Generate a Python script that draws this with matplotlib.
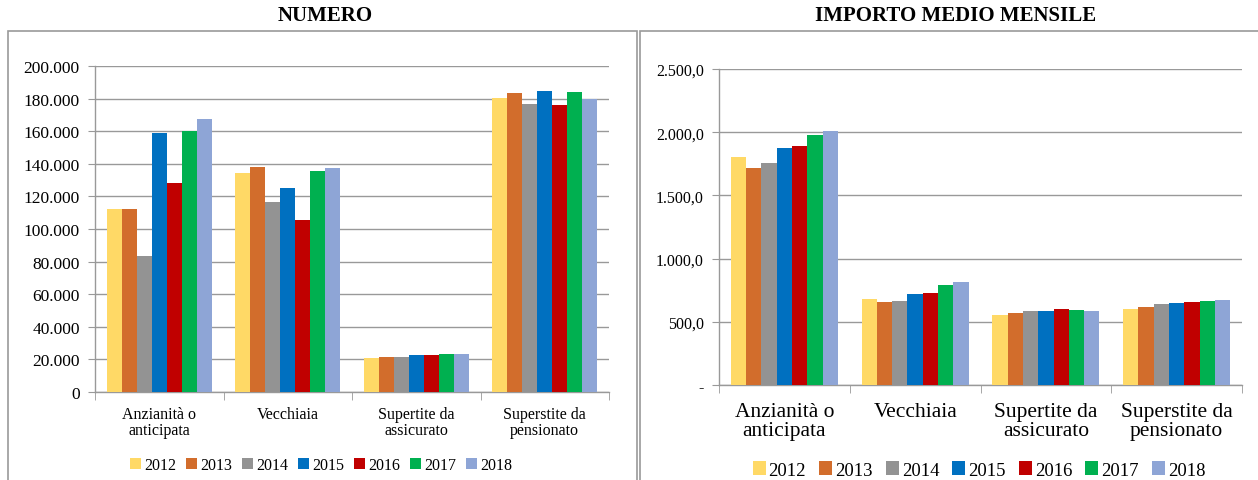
import numpy as np
import matplotlib
matplotlib.use("Agg")
import matplotlib.pyplot as plt
from matplotlib.patches import Rectangle
from matplotlib.ticker import FuncFormatter, MultipleLocator, FixedLocator

plt.rcParams['font.family'] = ['Liberation Serif', 'DejaVu Serif']

categorie = ['Anzianità o\nanticipata', 'Vecchiaia', 'Supertite da\nassicurato', 'Superstite da\npensionato']
anni = ['2012', '2013', '2014', '2015', '2016', '2017', '2018']
colori = ['#FFD966', '#D26D2C', '#939393', '#0070C0', '#C00000', '#00B050', '#8EA5D6']

# numero pensioni, una riga per anno (ordine categorie)
numero = [
    [112200, 134100, 20600, 180400],
    [112200, 138200, 21600, 183700],
    [83700, 116500, 21600, 176700],
    [158800, 125300, 22700, 184900],
    [128200, 105500, 22700, 175900],
    [160400, 135500, 23300, 184300],
    [167300, 137600, 23300, 179800],
]

# importo medio mensile
importo = [
    [1800, 678, 557, 602],
    [1719, 660, 570, 618],
    [1756, 665, 583, 639],
    [1877, 721, 583, 652],
    [1893, 729, 599, 660],
    [1980, 789, 591, 665],
    [2006, 816, 583, 673],
]


def fmt_numero(v, pos):
    return '{:,.0f}'.format(v).replace(',', '.')


def fmt_importo(v, pos):
    if v == 0:
        return '-'
    s = '{:,.1f}'.format(v)
    return s.replace(',', 'X').replace('.', ',').replace('X', '.')


def disegna(ax, dati, ymax, step, fmt, fs_tick, fs_cat, pad_cat):
    x = np.arange(len(categorie))
    n = len(anni)
    w = 0.82 / n
    for i in range(n):
        ax.bar(x - 0.41 + w * (i + 0.5), dati[i], w, color=colori[i], label=anni[i], zorder=3)
    ax.set_xlim(-0.5, len(categorie) - 0.5)
    ax.set_ylim(0, ymax)
    ax.yaxis.set_major_locator(MultipleLocator(step))
    ax.yaxis.set_major_formatter(FuncFormatter(fmt))
    ax.grid(axis='y', color='#999999', linewidth=1.0, zorder=0)
    ax.set_xticks(x)
    ax.set_xticklabels(categorie, fontsize=fs_cat, linespacing=1.0)
    ax.xaxis.set_minor_locator(FixedLocator(np.arange(-0.5, len(categorie), 1.0)))
    ax.tick_params(axis='x', which='major', length=0, pad=pad_cat)
    ax.tick_params(axis='x', which='minor', length=6, color='#999999')
    ax.tick_params(axis='y', length=5, color='#999999', labelsize=fs_tick, pad=6)
    for s in ['top', 'right']:
        ax.spines[s].set_visible(False)
    for s in ['left', 'bottom']:
        ax.spines[s].set_color('#999999')
        ax.spines[s].set_linewidth(1.0)


fig = plt.figure(figsize=(12.58, 4.81), dpi=100)

# cornici dei due pannelli
fig.patches.append(Rectangle((8 / 1258, -0.1), 629 / 1258, 1.1 - 32 / 481, transform=fig.transFigure,
                             fill=False, edgecolor='#9a9a9a', linewidth=1.2))
fig.patches.append(Rectangle((640 / 1258, -0.1), 640 / 1258, 1.1 - 32 / 481, transform=fig.transFigure,
                             fill=False, edgecolor='#9a9a9a', linewidth=1.2))

ax1 = fig.add_axes([95 / 1258, 1 - 393 / 481, 514 / 1258, 326 / 481])
disegna(ax1, numero, 200000, 20000, fmt_numero, 12.5, 11.5, 10)
fig.text(325 / 1258, 1 - 16 / 481, 'NUMERO', ha='center', va='center', fontsize=15, fontweight='bold')
ax1.legend(loc='center', bbox_to_anchor=(321 / 1258, 1 - 466 / 481), bbox_transform=fig.transFigure,
           ncol=7, frameon=False, fontsize=11.5, handlelength=0.7, handleheight=0.7,
           handletextpad=0.2, columnspacing=0.6, borderaxespad=0)

ax2 = fig.add_axes([719 / 1258, 1 - 386 / 481, 523 / 1258, 316 / 481])
disegna(ax2, importo, 2500, 500, fmt_importo, 11.5, 15.5, 12)
fig.text(956 / 1258, 1 - 16 / 481, 'IMPORTO MEDIO MENSILE', ha='center', va='center', fontsize=15, fontweight='bold')
ax2.legend(loc='center', bbox_to_anchor=(979 / 1258, 1 - 471 / 481), bbox_transform=fig.transFigure,
           ncol=7, frameon=False, fontsize=13.5, handlelength=0.7, handleheight=0.7,
           handletextpad=0.15, columnspacing=0.7, borderaxespad=0)

fig.savefig('out.png', dpi=100)
